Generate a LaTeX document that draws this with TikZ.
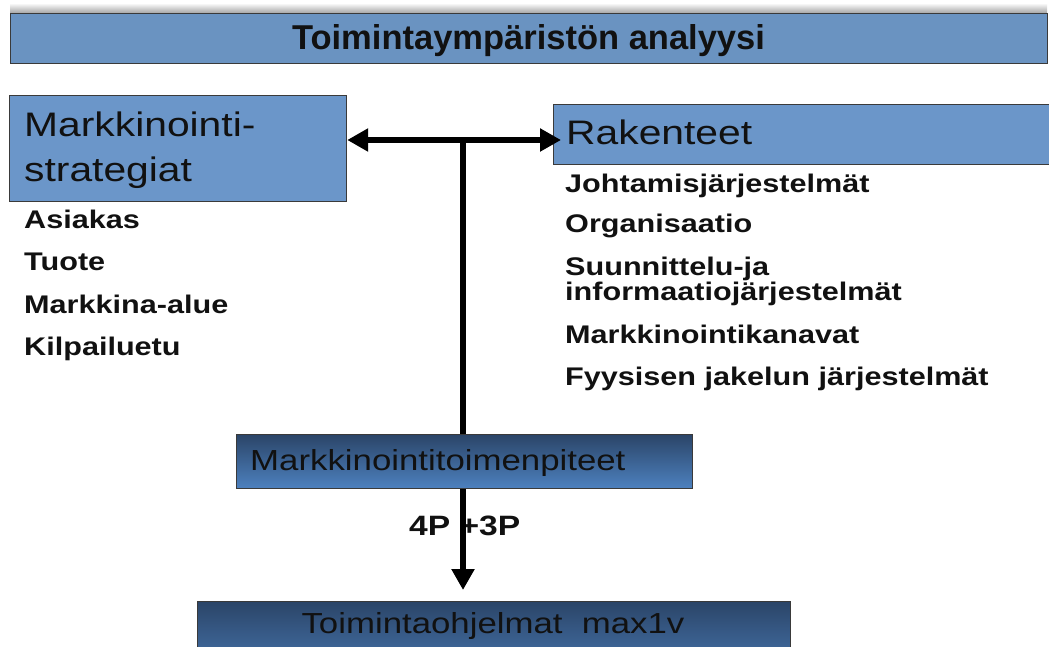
\documentclass[tikz,border=0pt]{standalone}
\usepackage{fontspec}
\setmainfont{Liberation Sans}[FakeStretch=1.2]
\newfontfamily\titlefont{Liberation Sans}
\usetikzlibrary{arrows.meta}

\definecolor{panelblue}{HTML}{6B96C9}
\definecolor{barblue}{HTML}{6A93C1}
\definecolor{deepblue}{HTML}{2B4568}
\definecolor{midblue}{HTML}{4D81BF}
\definecolor{edgegrey}{HTML}{3A3A3A}
\definecolor{inkblack}{HTML}{111111}

\begin{document}
\begin{tikzpicture}[x=1pt,y=-1pt,
  panel/.style={draw=edgegrey, line width=1.2pt, fill=panelblue, inner sep=0pt, anchor=north west},
  gradpanel/.style={draw=edgegrey, line width=1.2pt, top color=deepblue, bottom color=midblue, inner sep=0pt, anchor=north west},
  headtext/.style={font=\fontsize{34}{34}\selectfont, text=inkblack, anchor=base west, inner sep=0pt},
  itemtext/.style={font=\fontsize{25.5}{25.5}\selectfont\bfseries, text=inkblack, anchor=base west, inner sep=0pt},
  link/.style={line width=6.5pt, draw=black},
  tipend/.style={-{Triangle[length=21pt,width=22pt]}},
  tipboth/.style={{Triangle[length=21pt,width=22pt]}-{Triangle[length=21pt,width=22pt]}}
]
\useasboundingbox (0,0) rectangle (1049,647);
\fill[white] (0,0) rectangle (1049,647);

% soft shadow above the title bar
\shade[top color=white, bottom color=black!35] (10,3) rectangle (1047,13);

% title bar
\node[draw=edgegrey, line width=1.2pt, fill=barblue, inner sep=0pt, anchor=north west,
      minimum width=1037pt, minimum height=50pt] (bar) at (10,13) {};
\node[font=\titlefont\bfseries\fontsize{34.5}{34.5}\selectfont, text=inkblack, anchor=base, inner sep=0pt]
  (title) at (528.5,50) {Toimintaympäristön analyysi};

% strategy panel with its items
\node[panel, minimum width=337pt, minimum height=106pt] (strat) at (9,95) {};
\node[headtext] (stratA) at (24,137) {Markkinointi-};
\node[headtext] (stratB) at (24,182) {strategiat};
\node[itemtext] (s1) at (24,228) {Asiakas};
\node[itemtext] (s2) at (24,270) {Tuote};
\node[itemtext] (s3) at (24,313) {Markkina-alue};
\node[itemtext] (s4) at (24,355) {Kilpailuetu};

% structures panel with its items
\node[panel, minimum width=510pt, minimum height=60pt] (rak) at (553,104) {};
\node[headtext] (rakA) at (566,145) {Rakenteet};
\node[itemtext] (r1) at (565,193) {Johtamisjärjestelmät};
\node[itemtext] (r2) at (565,233) {Organisaatio};
\node[itemtext] (r3) at (565,275) {Suunnittelu-ja};
\node[itemtext] (r4) at (565,300) {informaatiojärjestelmät};
\node[itemtext] (r5) at (565,343) {Markkinointikanavat};
\node[itemtext] (r6) at (565,385) {Fyysisen jakelun järjestelmät};

% marketing actions and action programmes
\node[gradpanel, minimum width=456pt, minimum height=54pt] (toim) at (236,434) {};
\node[font=\fontsize{29}{29}\selectfont, text=inkblack, anchor=base west, inner sep=0pt]
  (toimA) at (250,470) {Markkinointitoimenpiteet};
\node[draw=edgegrey, line width=1.2pt, top color=deepblue, bottom color=midblue!85!deepblue,
      inner sep=0pt, anchor=north west, minimum width=593pt, minimum height=76pt] (ohj) at (197,601) {};
\node[font=\fontsize{29}{29}\selectfont, text=inkblack, anchor=base, inner sep=0pt]
  (ohjA) at (493,633) {Toimintaohjelmat\ \ max1v};

\node[font=\fontsize{28}{28}\selectfont\bfseries, text=inkblack, anchor=base west, inner sep=0pt]
  (mix) at (409,535) {4P +3P};

% connectors
\coordinate (hub) at (463,140);
\draw[link, tipboth] (hub -| strat.east) -- ([xshift=8pt]hub -| rak.west);
\draw[link] (hub) -- (toim.north -| hub);
\draw[link, tipend, shorten >=11pt] (toim.south -| hub) -- (ohj.north -| hub);
\end{tikzpicture}
\end{document}
